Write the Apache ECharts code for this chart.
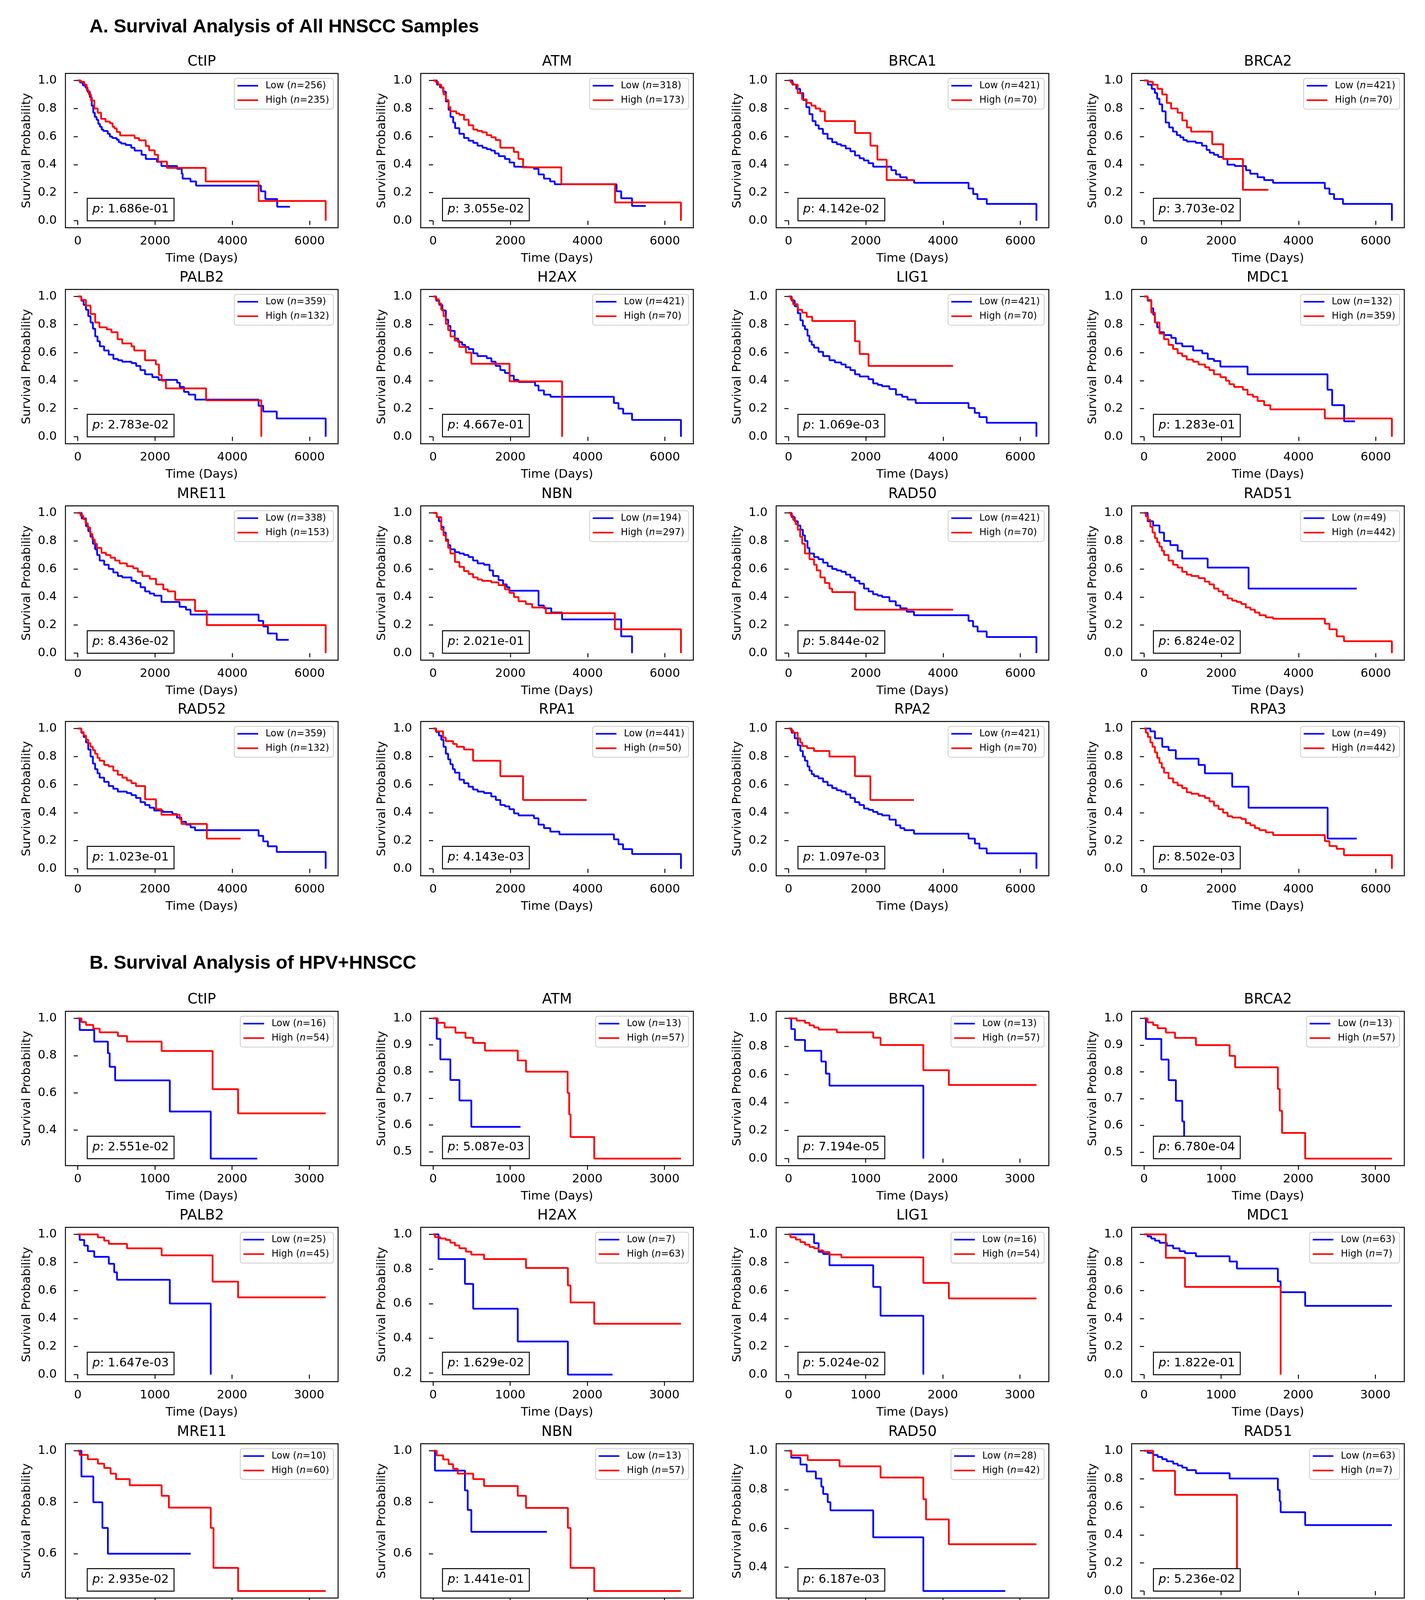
<!DOCTYPE html>
<html><head><meta charset="utf-8">
<script src="https://cdn.jsdelivr.net/npm/echarts@6/dist/echarts.min.js"></script>
<style>html,body{margin:0;padding:0;background:#fff}#c{width:3648px;height:4768px}</style>
</head><body><div id="c"></div>
<script>
// ---------- labels / meta ----------
const genes = ['CtIP','ATM','BRCA1','BRCA2','PALB2','H2AX','LIG1','MDC1','MRE11','NBN','RAD50','RAD51','RAD52','RPA1','RPA2','RPA3'];
const nLowA  = [256,318,421,421,359,421,421,132,338,194,421,49,359,441,421,49];
const nHighA = [235,173,70,70,132,70,70,359,153,297,70,442,132,50,70,442];
const nLowB  = [16,13,13,13,25,7,16,63,10,13,28,63,22,16,10,51];
const nHighB = [54,57,57,57,45,63,54,7,60,57,42,7,48,54,60,19];
const pA = ['1.686e-01','3.055e-02','4.142e-02','3.703e-02','2.783e-02','4.667e-01','1.069e-03','1.283e-01','8.436e-02','2.021e-01','5.844e-02','6.824e-02','1.023e-01','4.143e-03','1.097e-03','8.502e-03'];
const pB = ['2.551e-02','5.087e-03','7.194e-05','6.780e-04','1.647e-03','1.629e-02','5.024e-02','1.822e-01','2.935e-02','1.441e-01','6.187e-03','5.236e-02','2.374e-03','6.910e-04','2.842e-02','1.134e-02'];
const panelTitles = ['A. Survival Analysis of All HNSCC Samples','B. Survival Analysis of HPV+HNSCC'];
const xTicksA = [0,2000,4000,6000];
const xTicksB = [0,1000,2000,3000];
const yTicksFull = [0,0.2,0.4,0.6,0.8,1.0];
const yTicksB = [
 [0.4,0.6,0.8,1.0],[0.5,0.6,0.7,0.8,0.9,1.0],yTicksFull,[0.5,0.6,0.7,0.8,0.9,1.0],
 yTicksFull,[0.2,0.4,0.6,0.8,1.0],yTicksFull,yTicksFull,
 [0.6,0.8,1.0],[0.6,0.8,1.0],[0.4,0.6,0.8,1.0],yTicksFull,
 [0.4,0.6,0.8,1.0],yTicksFull,yTicksFull,[0.5,0.6,0.7,0.8,0.9,1.0]
];
const tMaxA = 6417, tMaxB = 3215;

// ---------- Panel A curves [time, survival] ----------
const A_CtIP_Low = [[0,1],[60,0.985],[130,0.965],[197,0.95],[250,0.92],[312,0.88],[360,0.82],[399,0.77],[440,0.74],[486,0.72],[530,0.69],[573,0.67],[620,0.65],[660,0.64],[775,0.62],[830,0.60],[891,0.59],[1007,0.577],[1060,0.56],[1122,0.55],[1238,0.54],[1383,0.52],[1470,0.50],[1650,0.47],[1759,0.44],[2048,0.42],[2164,0.39],[2569,0.37],[2690,0.335],[2714,0.30],[2916,0.28],[3061,0.25],[4739,0.21],[4854,0.155],[5161,0.10],[5491,0.10]];
const A_CtIP_High = [[0,1],[81,0.99],[168,0.97],[230,0.93],[284,0.90],[341,0.857],[428,0.80],[515,0.77],[602,0.726],[717,0.707],[833,0.695],[900,0.67],[949,0.658],[1007,0.633],[1094,0.608],[1470,0.589],[1585,0.573],[1759,0.533],[1846,0.502],[1990,0.47],[2077,0.421],[2309,0.377],[3310,0.28],[4681,0.141],[6417,0]];
const A_ATM_Low = [[0,1],[100,0.97],[180,0.95],[260,0.92],[330,0.85],[400,0.79],[450,0.74],[520,0.70],[570,0.66],[680,0.62],[800,0.59],[920,0.57],[1040,0.555],[1150,0.535],[1280,0.52],[1390,0.51],[1500,0.50],[1600,0.48],[1700,0.46],[1860,0.44],[1980,0.415],[2100,0.385],[2210,0.38],[2610,0.37],[2730,0.33],[2870,0.30],[3030,0.28],[3150,0.26],[4750,0.21],[4870,0.16],[5150,0.105],[5506,0.105]];
const A_ATM_High = [[0,1],[60,0.99],[130,0.97],[210,0.95],[270,0.90],[330,0.86],[400,0.81],[450,0.78],[600,0.765],[680,0.755],[800,0.72],[920,0.68],[1040,0.65],[1150,0.64],[1270,0.63],[1390,0.61],[1510,0.595],[1620,0.575],[1740,0.52],[2090,0.49],[2210,0.44],[2330,0.38],[3320,0.26],[4710,0.13],[6417,0]];
const A_BRCA1_Low = [[0,1],[100,0.97],[200,0.94],[300,0.91],[380,0.86],[460,0.81],[540,0.76],[620,0.71],[700,0.68],[780,0.655],[890,0.62],[1010,0.585],[1130,0.56],[1250,0.545],[1360,0.535],[1480,0.515],[1600,0.495],[1720,0.465],[1840,0.445],[1950,0.43],[2070,0.41],[2190,0.385],[2660,0.36],[2780,0.33],[2890,0.31],[3060,0.29],[3250,0.27],[4660,0.23],[4780,0.19],[4890,0.155],[5130,0.12],[6417,0]];
const A_BRCA1_High = [[0,1],[60,0.985],[120,0.97],[235,0.91],[350,0.865],[470,0.84],[590,0.82],[700,0.80],[820,0.78],[940,0.71],[1720,0.625],[2120,0.535],[2300,0.435],[2540,0.29],[3250,0.29]];
const A_BRCA2_Low = [[0,1],[100,0.97],[200,0.94],[280,0.91],[340,0.87],[400,0.83],[470,0.78],[560,0.70],[650,0.665],[750,0.635],[850,0.61],[940,0.595],[1020,0.575],[1110,0.565],[1340,0.555],[1500,0.535],[1620,0.505],[1700,0.485],[1810,0.47],[1920,0.455],[2050,0.44],[2160,0.40],[2350,0.39],[2640,0.36],[2750,0.335],[2940,0.31],[3110,0.29],[3340,0.27],[4680,0.23],[4800,0.19],[4920,0.155],[5150,0.12],[6417,0]];
const A_BRCA2_High = [[0,1],[90,0.99],[230,0.97],[350,0.94],[470,0.90],[590,0.84],[700,0.80],[870,0.77],[990,0.715],[1110,0.665],[1220,0.635],[1765,0.545],[2050,0.44],[2560,0.22],[3220,0.22]];
const A_PALB2_Low = [[0,1],[90,0.97],[150,0.94],[210,0.905],[270,0.86],[330,0.815],[390,0.77],[450,0.715],[510,0.68],[570,0.645],[680,0.615],[800,0.585],[920,0.555],[1040,0.545],[1150,0.535],[1390,0.525],[1510,0.505],[1620,0.475],[1740,0.445],[1930,0.425],[2090,0.405],[2570,0.385],[2640,0.355],[2750,0.32],[2870,0.30],[3040,0.265],[4680,0.22],[4800,0.18],[5150,0.13],[6417,0]];
const A_PALB2_High = [[0,1],[90,0.975],[210,0.935],[330,0.875],[450,0.815],[560,0.78],[750,0.765],[870,0.745],[1030,0.695],[1150,0.665],[1390,0.645],[1460,0.615],[1740,0.545],[2020,0.515],[2100,0.44],[2170,0.40],[2280,0.345],[3320,0.26],[4750,0]];
const A_H2AX_Low = [[0,1],[80,0.97],[160,0.94],[240,0.90],[330,0.835],[390,0.79],[450,0.755],[560,0.70],[650,0.675],[750,0.655],[830,0.64],[920,0.625],[1040,0.595],[1150,0.575],[1390,0.56],[1510,0.535],[1620,0.505],[1740,0.475],[1860,0.455],[1980,0.435],[2090,0.405],[2210,0.39],[2640,0.365],[2730,0.33],[2870,0.30],[3040,0.285],[4680,0.24],[4800,0.20],[4920,0.165],[5150,0.12],[6417,0]];
const A_H2AX_High = [[0,1],[70,0.98],[150,0.95],[210,0.905],[270,0.86],[330,0.805],[390,0.76],[450,0.715],[560,0.685],[680,0.64],[850,0.60],[990,0.52],[1980,0.395],[3340,0]];
const A_LIG1_Low = [[0,1],[80,0.97],[160,0.93],[240,0.88],[306,0.83],[370,0.79],[424,0.765],[490,0.72],[541,0.68],[600,0.655],[660,0.635],[776,0.605],[894,0.575],[1060,0.545],[1200,0.53],[1365,0.515],[1480,0.495],[1600,0.475],[1720,0.445],[1840,0.43],[2070,0.41],[2190,0.38],[2310,0.37],[2420,0.36],[2610,0.34],[2780,0.30],[2940,0.285],[3080,0.265],[3290,0.24],[4660,0.205],[4820,0.17],[4940,0.14],[5130,0.10],[6417,0]];
const A_LIG1_High = [[0,1],[60,0.98],[118,0.945],[235,0.905],[353,0.885],[471,0.855],[612,0.825],[1720,0.68],[1840,0.59],[2070,0.505],[4260,0.505]];
const A_MDC1_Low = [[0,1],[94,0.97],[188,0.915],[240,0.87],[282,0.815],[340,0.78],[400,0.745],[518,0.725],[706,0.705],[823,0.665],[988,0.645],[1270,0.615],[1506,0.595],[1650,0.555],[1810,0.54],[1976,0.50],[2680,0.445],[4750,0.335],[4870,0.225],[5180,0.11],[5460,0.11]];
const A_MDC1_High = [[0,1],[94,0.975],[188,0.885],[282,0.815],[400,0.735],[518,0.695],[635,0.655],[753,0.625],[870,0.595],[988,0.575],[1106,0.55],[1270,0.535],[1410,0.515],[1580,0.495],[1690,0.475],[1810,0.445],[1980,0.425],[2120,0.40],[2210,0.375],[2330,0.355],[2560,0.335],[2680,0.30],[2820,0.285],[2940,0.255],[3110,0.225],[3270,0.195],[4680,0.13],[6417,0]];
const A_MRE11_Low = [[0,1],[100,0.96],[212,0.905],[270,0.87],[329,0.83],[390,0.78],[447,0.74],[500,0.70],[565,0.66],[682,0.63],[800,0.60],[918,0.575],[1035,0.55],[1153,0.54],[1390,0.515],[1506,0.50],[1624,0.47],[1741,0.44],[1860,0.425],[1976,0.41],[2165,0.365],[2635,0.33],[2800,0.31],[2918,0.275],[4680,0.23],[4800,0.19],[4920,0.14],[5150,0.095],[5460,0.095]];
const A_MRE11_High = [[0,1],[70,0.98],[141,0.955],[200,0.925],[259,0.895],[320,0.85],[376,0.81],[440,0.78],[494,0.75],[612,0.715],[729,0.70],[847,0.68],[965,0.66],[1082,0.64],[1270,0.62],[1435,0.605],[1553,0.58],[1671,0.55],[1860,0.53],[2024,0.49],[2212,0.455],[2330,0.44],[2520,0.38],[3035,0.30],[3340,0.20],[6417,0]];
const A_NBN_Low = [[0,1],[94,0.97],[150,0.94],[212,0.90],[270,0.86],[329,0.81],[390,0.77],[447,0.74],[565,0.72],[682,0.71],[800,0.70],[918,0.685],[1035,0.66],[1153,0.64],[1318,0.63],[1460,0.59],[1553,0.55],[1694,0.52],[1812,0.49],[1906,0.47],[1976,0.445],[2730,0.34],[2870,0.32],[3060,0.29],[3340,0.24],[4870,0.12],[5150,0]];
const A_NBN_High = [[0,1],[94,0.97],[212,0.88],[270,0.84],[329,0.80],[390,0.75],[447,0.71],[565,0.65],[682,0.615],[800,0.585],[918,0.565],[1035,0.54],[1153,0.525],[1271,0.515],[1506,0.505],[1694,0.485],[1860,0.455],[1976,0.43],[2094,0.40],[2212,0.37],[2400,0.35],[2565,0.325],[2918,0.285],[4706,0.17],[6417,0]];
const A_RAD50_Low = [[0,1],[80,0.97],[160,0.94],[240,0.91],[306,0.88],[370,0.84],[424,0.80],[490,0.75],[541,0.71],[659,0.685],[776,0.67],[894,0.645],[1012,0.62],[1129,0.60],[1247,0.59],[1365,0.58],[1482,0.56],[1600,0.54],[1718,0.515],[1835,0.495],[1953,0.46],[2071,0.44],[2188,0.42],[2306,0.41],[2424,0.40],[2612,0.37],[2776,0.34],[2894,0.32],[3059,0.295],[3247,0.27],[4659,0.23],[4777,0.19],[4894,0.155],[5129,0.115],[6417,0]];
const A_RAD50_High = [[0,1],[60,0.98],[118,0.95],[180,0.92],[235,0.88],[300,0.83],[353,0.78],[424,0.71],[541,0.67],[659,0.63],[729,0.59],[824,0.54],[941,0.50],[1059,0.46],[1129,0.435],[1718,0.31],[4260,0.31]];
const A_RAD51_Low = [[0,1],[94,0.94],[235,0.91],[400,0.86],[518,0.80],[682,0.77],[871,0.73],[988,0.675],[1647,0.61],[2706,0.46],[5506,0.46]];
const A_RAD51_High = [[0,1],[47,0.975],[100,0.95],[165,0.90],[220,0.86],[282,0.82],[340,0.79],[400,0.76],[460,0.73],[518,0.70],[635,0.66],[753,0.63],[870,0.61],[988,0.58],[1106,0.56],[1224,0.55],[1412,0.535],[1576,0.51],[1694,0.49],[1812,0.46],[1929,0.44],[2047,0.415],[2165,0.39],[2282,0.375],[2400,0.365],[2518,0.35],[2635,0.325],[2753,0.31],[2870,0.29],[2988,0.27],[3153,0.255],[3341,0.245],[4682,0.21],[4800,0.17],[4988,0.12],[5176,0.085],[6417,0]];
const A_RAD52_Low = [[0,1],[90,0.97],[150,0.94],[212,0.90],[270,0.85],[329,0.80],[390,0.75],[447,0.71],[510,0.68],[565,0.65],[682,0.62],[800,0.59],[918,0.57],[1035,0.55],[1270,0.54],[1388,0.525],[1506,0.505],[1624,0.475],[1741,0.455],[1859,0.435],[1976,0.415],[2200,0.405],[2450,0.39],[2565,0.365],[2680,0.335],[2800,0.315],[2920,0.295],[3035,0.275],[4680,0.235],[4800,0.195],[4920,0.16],[5150,0.12],[6417,0]];
const A_RAD52_High = [[0,1],[94,0.975],[150,0.95],[212,0.92],[270,0.895],[329,0.87],[390,0.845],[447,0.82],[510,0.79],[565,0.77],[682,0.74],[800,0.73],[918,0.70],[1035,0.67],[1153,0.65],[1271,0.63],[1388,0.61],[1506,0.59],[1741,0.495],[2024,0.425],[2165,0.385],[2635,0.355],[2682,0.32],[3341,0.215],[4212,0.215]];
const A_RPA1_Low = [[0,1],[80,0.975],[150,0.95],[212,0.92],[270,0.87],[329,0.82],[390,0.78],[447,0.745],[510,0.71],[565,0.685],[682,0.635],[800,0.61],[918,0.585],[1035,0.565],[1153,0.55],[1318,0.54],[1506,0.515],[1624,0.49],[1741,0.455],[1859,0.445],[1976,0.425],[2094,0.395],[2212,0.38],[2612,0.36],[2729,0.315],[2871,0.29],[3035,0.265],[3271,0.245],[4682,0.21],[4800,0.175],[4918,0.14],[5153,0.105],[6417,0]];
const A_RPA1_High = [[0,1],[70,0.98],[259,0.935],[329,0.91],[518,0.89],[612,0.87],[800,0.85],[1035,0.77],[1741,0.66],[2329,0.49],[3977,0.49]];
const A_RPA2_Low = [[0,1],[80,0.97],[160,0.93],[240,0.88],[306,0.84],[370,0.80],[424,0.77],[490,0.73],[541,0.70],[600,0.675],[659,0.66],[776,0.645],[894,0.62],[1012,0.595],[1129,0.575],[1247,0.56],[1365,0.55],[1482,0.53],[1600,0.505],[1718,0.475],[1835,0.455],[1953,0.43],[2071,0.42],[2188,0.405],[2306,0.39],[2424,0.38],[2612,0.35],[2776,0.31],[2894,0.29],[3000,0.275],[3247,0.25],[4659,0.215],[4824,0.18],[4941,0.145],[5129,0.11],[6417,0]];
const A_RPA2_High = [[0,1],[60,0.985],[118,0.97],[235,0.93],[300,0.90],[353,0.875],[480,0.86],[659,0.84],[1059,0.80],[1718,0.66],[2118,0.49],[3247,0.49]];
const A_RPA3_Low = [[0,1],[165,0.98],[282,0.93],[471,0.87],[635,0.845],[823,0.785],[1412,0.74],[1576,0.68],[2282,0.585],[2706,0.435],[4753,0.215],[5506,0.215]];
const A_RPA3_High = [[0,1],[47,0.97],[100,0.94],[165,0.90],[220,0.87],[282,0.83],[340,0.79],[400,0.755],[460,0.72],[518,0.685],[635,0.645],[753,0.615],[870,0.595],[988,0.575],[1106,0.545],[1224,0.535],[1412,0.52],[1576,0.505],[1694,0.48],[1812,0.45],[1929,0.425],[2047,0.40],[2165,0.375],[2282,0.365],[2518,0.355],[2635,0.325],[2753,0.31],[2870,0.29],[2988,0.275],[3153,0.26],[3341,0.24],[4682,0.197],[4800,0.162],[4988,0.142],[5176,0.097],[6417,0]];

// ---------- Panel B curves ----------
const B_CtIP_Low = [[0,1],[24,0.9375],[213,0.875],[390,0.8125],[413,0.74],[484,0.667],[1193,0.50],[1724,0.247],[2327,0.247]];
const B_CtIP_High = [[0,1],[47,0.98],[106,0.965],[200,0.945],[283,0.925],[520,0.905],[638,0.875],[1087,0.825],[1748,0.62],[2079,0.49],[3215,0.49]];
const B_ATM_Low = [[0,1],[47,0.923],[94,0.846],[224,0.769],[342,0.692],[496,0.593],[1134,0.593]];
const B_ATM_High = [[0,1],[60,0.983],[150,0.966],[290,0.946],[420,0.927],[520,0.908],[673,0.879],[1098,0.842],[1205,0.80],[1745,0.72],[1765,0.64],[1783,0.555],[2090,0.474],[3215,0.474]];
const B_BRCA1_Low = [[0,1],[35,0.923],[83,0.846],[213,0.769],[425,0.692],[484,0.606],[531,0.52],[1748,0]];
const B_BRCA1_High = [[0,1],[106,0.984],[213,0.968],[272,0.95],[331,0.935],[390,0.92],[626,0.90],[1098,0.862],[1193,0.81],[1748,0.63],[2079,0.525],[3215,0.525]];
const B_BRCA2_Low = [[0,1],[24,0.923],[224,0.846],[319,0.769],[413,0.692],[496,0.615],[520,0.538],[555,0.538]];
const B_BRCA2_High = [[0,1],[47,0.985],[118,0.975],[177,0.963],[283,0.947],[402,0.927],[673,0.90],[1110,0.86],[1181,0.817],[1736,0.736],[1760,0.655],[1790,0.572],[2090,0.476],[3215,0.476]];
const B_PALB2_Low = [[0,1],[24,0.96],[83,0.92],[130,0.88],[213,0.84],[402,0.79],[472,0.73],[508,0.676],[1193,0.507],[1724,0]];
const B_PALB2_High = [[0,1],[260,0.978],[342,0.955],[402,0.932],[638,0.90],[1087,0.85],[1748,0.663],[2079,0.551],[3215,0.551]];
const B_H2AX_Low = [[0,1],[71,0.857],[413,0.714],[520,0.571],[1098,0.381],[1748,0.19],[2327,0.19]];
const B_H2AX_High = [[0,1],[24,0.984],[94,0.976],[165,0.968],[224,0.952],[283,0.936],[342,0.92],[425,0.90],[496,0.883],[661,0.857],[1205,0.806],[1748,0.705],[1783,0.607],[2090,0.484],[3215,0.484]];
const B_LIG1_Low = [[0,1],[331,0.9375],[390,0.875],[449,0.86],[531,0.78],[1098,0.625],[1193,0.42],[1748,0]];
const B_LIG1_High = [[0,1],[24,0.98],[94,0.963],[153,0.945],[213,0.927],[272,0.91],[331,0.90],[390,0.886],[449,0.874],[531,0.856],[685,0.836],[1748,0.654],[2079,0.543],[3215,0.543]];
const B_MDC1_Low = [[0,1],[47,0.985],[94,0.97],[142,0.955],[201,0.94],[295,0.92],[378,0.90],[461,0.88],[531,0.866],[673,0.844],[1110,0.806],[1205,0.756],[1736,0.666],[1772,0.588],[2090,0.49],[3215,0.49]];
const B_MDC1_High = [[0,1],[283,0.833],[531,0.625],[1772,0]];
const B_MRE11_Low = [[0,1],[47,0.9],[201,0.8],[319,0.7],[390,0.6],[1464,0.6]];
const B_MRE11_High = [[0,1],[24,0.984],[130,0.967],[260,0.95],[342,0.933],[425,0.911],[496,0.89],[673,0.866],[1087,0.825],[1181,0.779],[1724,0.70],[1760,0.545],[2079,0.455],[3215,0.455]];
const B_NBN_Low = [[0,1],[24,0.923],[413,0.846],[449,0.77],[496,0.685],[1476,0.685]];
const B_NBN_High = [[0,1],[47,0.982],[130,0.966],[201,0.948],[260,0.93],[319,0.911],[520,0.89],[661,0.863],[1098,0.825],[1205,0.778],[1748,0.70],[1783,0.545],[2090,0.455],[3215,0.455]];
const B_RAD50_Low = [[0,1],[35,0.964],[154,0.929],[236,0.893],[354,0.857],[425,0.815],[449,0.777],[508,0.735],[543,0.693],[1098,0.554],[1748,0.277],[2811,0.277]];
const B_RAD50_High = [[0,1],[35,0.976],[248,0.952],[661,0.92],[1193,0.862],[1748,0.75],[1783,0.646],[2079,0.518],[3215,0.518]];
const B_RAD51_Low = [[0,1],[47,0.985],[118,0.97],[177,0.956],[236,0.94],[295,0.925],[378,0.908],[437,0.895],[496,0.88],[555,0.862],[673,0.84],[1110,0.802],[1736,0.72],[1760,0.64],[1772,0.562],[2090,0.47],[3215,0.47]];
const B_RAD51_High = [[0,1],[118,0.857],[402,0.686],[1205,0]];
const B_RAD52_Low = [[0,1],[24,0.955],[71,0.909],[213,0.864],[260,0.818],[342,0.773],[402,0.727],[484,0.665],[1087,0.50],[1181,0.333],[2327,0.333]];
const B_RAD52_High = [[0,1],[130,0.979],[402,0.958],[461,0.93],[543,0.903],[1724,0.80],[1748,0.70],[1771,0.603],[2079,0.482],[3215,0.482]];
const B_RPA1_Low = [[0,1],[24,0.9375],[83,0.875],[213,0.8125],[413,0.75],[449,0.68],[520,0.594],[1748,0]];
const B_RPA1_High = [[0,1],[130,0.982],[248,0.962],[319,0.943],[402,0.925],[520,0.896],[1098,0.85],[1205,0.805],[1760,0.625],[2090,0.52],[3215,0.52]];
const B_RPA2_Low = [[0,1],[224,0.9],[390,0.8],[508,0.633],[1193,0]];
const B_RPA2_High = [[0,1],[24,0.984],[71,0.968],[118,0.952],[177,0.935],[224,0.92],[295,0.907],[354,0.894],[425,0.89],[508,0.875],[650,0.856],[1098,0.818],[1748,0.727],[1772,0.573],[2079,0.478],[3215,0.478]];
const B_RPA3_Low = [[0,1],[47,0.99],[94,0.98],[224,0.96],[340,0.94],[402,0.93],[472,0.915],[531,0.894],[1087,0.856],[1205,0.81],[1736,0.73],[1750,0.65],[1772,0.568],[2090,0.472],[3215,0.472]];
const B_RPA3_High = [[0,1],[24,0.947],[118,0.895],[283,0.842],[354,0.789],[402,0.724],[650,0.579],[992,0.579]];

const curvesA = [[A_CtIP_Low,A_CtIP_High],[A_ATM_Low,A_ATM_High],[A_BRCA1_Low,A_BRCA1_High],[A_BRCA2_Low,A_BRCA2_High],[A_PALB2_Low,A_PALB2_High],[A_H2AX_Low,A_H2AX_High],[A_LIG1_Low,A_LIG1_High],[A_MDC1_Low,A_MDC1_High],[A_MRE11_Low,A_MRE11_High],[A_NBN_Low,A_NBN_High],[A_RAD50_Low,A_RAD50_High],[A_RAD51_Low,A_RAD51_High],[A_RAD52_Low,A_RAD52_High],[A_RPA1_Low,A_RPA1_High],[A_RPA2_Low,A_RPA2_High],[A_RPA3_Low,A_RPA3_High]];
const curvesB = [[B_CtIP_Low,B_CtIP_High],[B_ATM_Low,B_ATM_High],[B_BRCA1_Low,B_BRCA1_High],[B_BRCA2_Low,B_BRCA2_High],[B_PALB2_Low,B_PALB2_High],[B_H2AX_Low,B_H2AX_High],[B_LIG1_Low,B_LIG1_High],[B_MDC1_Low,B_MDC1_High],[B_MRE11_Low,B_MRE11_High],[B_NBN_Low,B_NBN_High],[B_RAD50_Low,B_RAD50_High],[B_RAD51_Low,B_RAD51_High],[B_RAD52_Low,B_RAD52_High],[B_RPA1_Low,B_RPA1_High],[B_RPA2_Low,B_RPA2_High],[B_RPA3_Low,B_RPA3_High]];

// ---------- layout ----------
const CW = 3648, CH = 4768;
const W = 698, H = 395;
const colLeft = [167.5, 1077, 1987, 2897];
const rowTop = [188, 741, 1295, 1847, 2589, 3142, 3696, 4248];
const FONT = 'DejaVu Sans';
const BLUE = '#0000ff', RED = '#ff0000';

const grids = [], xAxes = [], yAxes = [], series = [], legends = [], elements = [];
const labelMap = {};

function addPanel(k, pi, gi) {
  const isA = pi === 0;
  const row = pi * 4 + Math.floor(gi / 4), col = gi % 4;
  const left = colLeft[col], top = rowTop[row];
  const cv = isA ? curvesA[gi] : curvesB[gi];
  const tmax = isA ? tMaxA : tMaxB;
  const xt = isA ? xTicksA : xTicksB;
  const yt = isA ? yTicksFull : yTicksB[gi];
  let ymin = 1;
  cv.forEach(c => c.forEach(p => { if (p[1] < ymin) ymin = p[1]; }));
  const span = 1 - ymin;
  grids.push({left, top, width: W, height: H, show: true, borderColor: '#000', borderWidth: 2.4,
    backgroundColor: 'transparent', containLabel: false, outerBoundsMode: 'none'});
  xAxes.push({gridIndex: k, type: 'value', min: -0.05 * tmax, max: 1.05 * tmax,
    axisLine: {show: false}, splitLine: {show: false},
    axisTick: {show: true, inside: false, length: 10.7, lineStyle: {color: '#000', width: 2.4}, customValues: xt},
    axisLabel: {show: true, customValues: xt, margin: 20, fontSize: 30.6, fontFamily: FONT, color: '#000', formatter: v => String(Math.round(v))},
    name: 'Time (Days)', nameLocation: 'middle', nameGap: 64,
    nameTextStyle: {fontSize: 30.6, fontFamily: FONT, color: '#000'}});
  yAxes.push({gridIndex: k, type: 'value', min: ymin - 0.05 * span, max: 1 + 0.05 * span,
    axisLine: {show: false}, splitLine: {show: false},
    axisTick: {show: true, inside: false, length: 10.7, lineStyle: {color: '#000', width: 2.4}, customValues: yt},
    axisLabel: {show: true, customValues: yt, margin: 22, fontSize: 30.6, fontFamily: FONT, color: '#000', formatter: v => v.toFixed(1)},
    name: 'Survival Probability', nameLocation: 'middle', nameGap: 83,
    nameTextStyle: {fontSize: 30.6, fontFamily: FONT, color: '#000'}});
  const nL = isA ? nLowA[gi] : nLowB[gi], nH = isA ? nHighA[gi] : nHighB[gi];
  const nameL = (isA ? 'A' : 'B') + '_' + genes[gi] + '_Low';
  const nameH = (isA ? 'A' : 'B') + '_' + genes[gi] + '_High';
  labelMap[nameL] = 'Low ({i|n}=' + nL + ')';
  labelMap[nameH] = 'High ({i|n}=' + nH + ')';
  [[nameL, cv[0], BLUE], [nameH, cv[1], RED]].forEach(([nm, d, c]) => {
    series.push({type: 'line', name: nm, xAxisIndex: k, yAxisIndex: k, data: d, step: 'end',
      symbol: 'none', showSymbol: false, color: c, lineStyle: {color: c, width: 4.5},
      itemStyle: {color: c}, animation: false, silent: true, z: 2});
  });
  legends.push({show: true, type: 'plain', orient: 'vertical', right: CW - (left + W - 12), top: top + 12.5,
    data: [nameL, nameH], icon: 'rect', itemWidth: 53, itemHeight: 4, itemGap: 13,
    padding: [7, 11, 11, 8], borderColor: '#cccccc', borderWidth: 2, borderRadius: 6,
    backgroundColor: 'rgba(255,255,255,0.8)', selectedMode: false,
    formatter: nm => labelMap[nm],
    textStyle: {fontSize: 24, fontFamily: FONT, color: '#000', padding: [0, 0, 0, 14],
      rich: {i: {fontSize: 24, fontFamily: FONT, fontStyle: 'italic', color: '#000'}}}});
  // subplot title
  elements.push({type: 'text', x: left + W / 2, y: top - 29.5, z: 100,
    style: {text: genes[gi], fontSize: 36.7, fontFamily: FONT, fill: '#000',
      align: 'center', verticalAlign: 'middle', textAlign: 'center', textVerticalAlign: 'middle'}});
  // p-value box
  const p = isA ? pA[gi] : pB[gi];
  elements.push({type: 'text', x: left + 57, y: top + H - 19, z: 100,
    style: {text: '{i|p}: ' + p, fontSize: 30.6, fontFamily: FONT, fill: '#000',
      align: 'left', verticalAlign: 'bottom', textAlign: 'left', textVerticalAlign: 'bottom',
      padding: [12, 12, 12, 12], backgroundColor: '#fff', borderColor: '#000', borderWidth: 2.4,
      rich: {i: {fontSize: 30.6, fontFamily: FONT, fontStyle: 'italic', fill: '#000'}}}});
}

let k = 0;
for (let pi = 0; pi < 2; pi++) for (let gi = 0; gi < 16; gi++) addPanel(k++, pi, gi);

// panel titles
elements.push({type: 'text', x: 229, y: 70, z: 100,
  style: {text: panelTitles[0], fontSize: 48.5, fontWeight: 'bold', fontFamily: 'Liberation Sans', fill: '#000',
    align: 'left', verticalAlign: 'middle', textAlign: 'left', textVerticalAlign: 'middle'}});
elements.push({type: 'text', x: 229, y: 2467, z: 100,
  style: {text: panelTitles[1], fontSize: 48.5, fontWeight: 'bold', fontFamily: 'Liberation Sans', fill: '#000',
    align: 'left', verticalAlign: 'middle', textAlign: 'left', textVerticalAlign: 'middle'}});

const chart = echarts.init(document.getElementById('c'), null, {renderer: 'canvas', width: CW, height: CH});
chart.setOption({
  animation: false,
  backgroundColor: '#ffffff',
  grid: grids, xAxis: xAxes, yAxis: yAxes, series: series, legend: legends,
  graphic: {elements: elements}
});
</script></body></html>
